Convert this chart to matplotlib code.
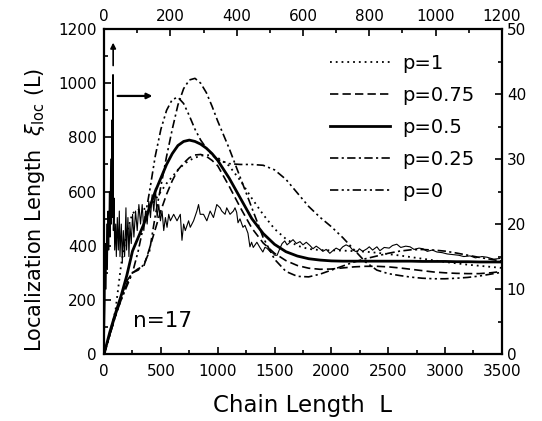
import matplotlib.pyplot as plt
from matplotlib.ticker import MultipleLocator

# chain length grid (bottom axis) for the averaged curves
L = [0, 50, 100, 150, 200, 250, 300, 350, 400, 450, 500, 550, 600, 650, 700, 750,
     800, 850, 900, 950, 1000, 1100, 1200, 1300, 1400, 1500, 1600, 1700, 1800, 1900,
     2000, 2100, 2200, 2300, 2400, 2500, 2600, 2700, 2800, 2900, 3000, 3100, 3200,
     3300, 3400, 3500]

p1 = [0, 75, 160, 330, 450, 520, 532, 535, 545, 570, 600, 630, 655, 680, 700, 715,
      725, 732, 735, 733, 725, 695, 640, 575, 515, 462, 425, 400, 388, 384,
      383, 382, 380, 378, 374, 369, 364, 358, 352, 346, 340, 335, 330,
      326, 322, 318]
p075 = [0, 70, 140, 210, 270, 300, 315, 325, 390, 460, 530, 590, 640, 680, 705, 725,
        735, 737, 730, 715, 695, 620, 540, 465, 410, 372, 345, 327, 317, 313,
        314, 318, 322, 324, 324, 322, 318, 313, 308, 303, 300, 298, 297,
        297, 300, 305]
p05 = [0, 80, 150, 215, 290, 380, 430, 480, 540, 600, 650, 700, 740, 770, 785, 790,
       785, 775, 760, 740, 715, 650, 575, 500, 445, 405, 378, 362, 352, 347,
       344, 343, 343, 343, 343, 343, 343, 343, 342, 342, 342, 341, 341,
       340, 340, 340]
p025 = [0, 70, 140, 200, 260, 300, 310, 330, 380, 510, 620, 730, 830, 920, 980, 1012,
        1018, 1000, 965, 915, 860, 760, 650, 540, 430, 350, 305, 287, 285, 295,
        310, 325, 340, 352, 362, 372, 380, 385, 386, 384, 380, 373, 365,
        357, 350, 343]
p0 = [0, 70, 140, 200, 250, 300, 380, 480, 600, 730, 830, 900, 940, 948, 925, 880,
      830, 790, 760, 735, 718, 703, 700, 700, 697, 680, 645, 595, 545, 505,
      470, 430, 385, 340, 310, 297, 290, 284, 280, 278, 278, 280, 283,
      288, 295, 302]

# single-chain result, read on top axis (L) and right axis (xi)
Ls = [0, 3, 4, 6, 8, 10, 12, 14, 16, 18, 20, 22, 23, 24, 25, 26, 27, 28, 30, 32,
      35, 37, 40, 43, 46, 48, 52, 55, 58, 62, 66, 68, 72, 75, 78, 82, 86, 90, 95,
      100, 105, 110, 115, 120, 125, 130, 135, 140, 145, 150, 155, 160, 165, 170,
      175, 180, 185, 190, 195, 200, 210, 220, 230, 235, 240, 245, 255, 260, 270,
      280, 285, 290, 300, 310, 320, 330, 340, 350, 355, 365, 370, 380, 390, 395,
      400, 404, 410, 419, 425, 434, 440, 445, 450, 461, 470, 479, 485, 491, 500,
      510, 515, 522, 530, 537, 545, 552, 561, 570, 580, 591, 600, 610, 621, 630,
      640, 651, 660, 670, 681, 690, 700, 711, 720, 730, 742, 750, 763, 770, 780,
      793, 800, 810, 823, 832, 845, 860, 870, 883, 895, 910, 923, 935, 950, 962,
      975, 990, 1004, 1020, 1035, 1052, 1070, 1085, 1104, 1120, 1140, 1155, 1175,
      1194]
xs = [0, 8, 17, 10, 20, 13, 22, 16, 25, 18, 30, 20, 36, 21, 35, 22, 43, 19, 24, 16,
      20, 15, 21, 16, 22, 15, 20, 14, 19, 15, 22.5, 16, 21, 15, 20, 17, 21.5, 18,
      22, 19, 23, 20, 23, 19, 22, 20, 23.5, 21, 24.5, 22, 25.5, 21, 23, 20.5, 22,
      19, 21, 19.5, 21.5, 20.5, 21.5, 20.5, 21.5, 17.5, 20, 19, 20.5, 19.5, 20.5,
      22, 23, 21.5, 21.5, 20.5, 22, 21, 23, 22.5, 22, 21.5, 22.5, 21.5, 22, 22.5,
      21.8, 20.2, 20.8, 19.5, 19.8, 18.6, 16.5, 17.2, 16.4, 17.2, 16.4, 15.7, 16.4,
      16.3, 15.8, 15.5, 15.2, 15.2, 16.2, 17.0, 17.4, 16.8, 17.2, 17.6, 17.0, 17.3,
      16.8, 17.2, 16.7, 16.2, 16.6, 16.2, 15.8, 16.1, 15.5, 15.9, 16.3, 16.0, 16.5,
      16.8, 16.5, 16.0, 15.7, 16.2, 15.8, 16.2, 16.5, 16.0, 16.5, 15.9, 16.4, 16.3,
      16.7, 16.9, 16.4, 16.6, 16.5, 16.1, 16.3, 16.2, 15.8, 16.0, 15.7, 15.6, 15.4,
      15.3, 15.2, 15.0, 15.1, 14.8, 15.0, 14.9, 14.6, 14.7]

labels = ['p=1', 'p=0.75', 'p=0.5', 'p=0.25', 'p=0']

fig = plt.figure(figsize=(5.42, 4.21), dpi=100)
ax = fig.add_axes([0.192, 0.159, 0.734, 0.772])

ax.plot(L, p1, color='black', lw=1.3, ls=(0, (1, 2.2)), label=labels[0])
ax.plot(L, p075, color='black', lw=1.2, ls=(0, (5, 2.5)), label=labels[1])
ax.plot(L, p05, color='black', lw=2.0, ls='-', label=labels[2])
ax.plot(L, p025, color='black', lw=1.2, ls=(0, (5, 2, 1.3, 2)), label=labels[3])
ax.plot(L, p0, color='black', lw=1.2, ls=(0, (5, 2, 1.3, 2, 1.3, 2)), label=labels[4])

ax.set_xlim(0, 3500)
ax.set_ylim(0, 1200)
ax.xaxis.set_major_locator(MultipleLocator(500))
ax.xaxis.set_minor_locator(MultipleLocator(250))
ax.yaxis.set_major_locator(MultipleLocator(200))
ax.yaxis.set_minor_locator(MultipleLocator(100))
ax.tick_params(which='both', direction='in', labelsize=11, width=1.2)
ax.tick_params(which='major', length=5)
ax.tick_params(which='minor', length=3)
ax.tick_params(axis='x', pad=7)
ax.tick_params(axis='y', pad=5)
for s in ax.spines.values():
    s.set_linewidth(1.6)

ax.set_xlabel('Chain Length  L', fontsize=16.5, labelpad=11)
ax.set_ylabel(r'Localization Length  $\xi_{\rm loc}$ (L)', fontsize=15)
ax.yaxis.set_label_coords(-0.143, 0.443)

ax.text(255, 100, 'n=17', fontsize=15.5)

ax.annotate('', xy=(80, 1160), xytext=(80, 1055),
            arrowprops=dict(arrowstyle='-|>', color='black', lw=1.2, mutation_scale=8))
ax.annotate('', xy=(450, 953), xytext=(95, 953),
            arrowprops=dict(arrowstyle='-|>', color='black', lw=1.6, mutation_scale=8))

ax.legend(loc='upper right', bbox_to_anchor=(0.96, 0.96), frameon=False, fontsize=14,
          handlelength=3.1, handletextpad=0.6, labelspacing=0.67, borderaxespad=0.2)

# top / right axes for the single chain
ax2 = fig.add_axes(ax.get_position(), frameon=False)
ax2.plot(Ls, xs, color='black', lw=0.8)
ax2.set_xlim(0, 1200)
ax2.set_ylim(0, 50)
ax2.xaxis.tick_top()
ax2.yaxis.tick_right()
ax2.xaxis.set_major_locator(MultipleLocator(200))
ax2.xaxis.set_minor_locator(MultipleLocator(100))
ax2.yaxis.set_major_locator(MultipleLocator(10))
ax2.yaxis.set_minor_locator(MultipleLocator(5))
ax2.tick_params(which='both', direction='in', labelsize=11, width=1.2)
ax2.tick_params(which='major', length=5)
ax2.tick_params(which='minor', length=3)

fig.savefig('out.png', dpi=100)
